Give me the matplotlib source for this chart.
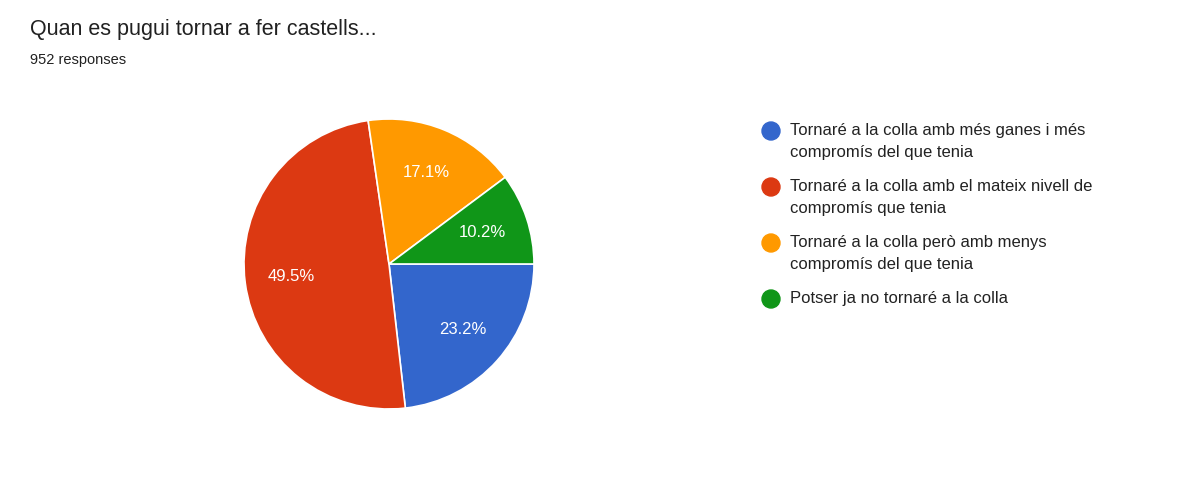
import matplotlib.pyplot as plt
from matplotlib.patches import Ellipse

plt.rcParams['font.family'] = ['Liberation Sans', 'DejaVu Sans']

title = "Quan es pugui tornar a fer castells..."
subtitle = "952 responses"
labels = [
    "Tornaré a la colla amb més ganes i més\ncompromís del que tenia",
    "Tornaré a la colla amb el mateix nivell de\ncompromís que tenia",
    "Tornaré a la colla però amb menys\ncompromís del que tenia",
    "Potser ja no tornaré a la colla",
]
values = [23.2, 49.5, 17.1, 10.2]
colors = ["#3366cc", "#dc3912", "#ff9900", "#109618"]

W, H = 1200, 484
fig = plt.figure(figsize=(12, 4.84), dpi=100)
fig.patch.set_facecolor("white")

cx, cy, r = 389, 264, 145
ax = fig.add_axes([(cx - r) / W, 1 - (cy + r) / H, 2 * r / W, 2 * r / H])
ax.pie(values, colors=colors, startangle=0, counterclock=False,
       autopct="%.1f%%", pctdistance=0.68,
       wedgeprops=dict(edgecolor="white", linewidth=1.2),
       textprops=dict(color="white", fontsize=12))
ax.set_xlim(-1, 1)
ax.set_ylim(-1, 1)
ax.set_aspect("equal")

fig.text(30 / W, 1 - 30 / H, title, fontsize=15.5, color="#212121", va="center")
fig.text(30 / W, 1 - 60 / H, subtitle, fontsize=10.5, color="#212121", va="center")

# legend drawn by hand to match the row spacing
y = 131
for lab, c in zip(labels, colors):
    fig.patches.append(Ellipse((771 / W, 1 - y / H), 18 / W, 18 / H, color=c,
                               transform=fig.transFigure, figure=fig))
    fig.text(790 / W, 1 - (y - 8) / H, lab, fontsize=12, color="#222222",
             va="top", linespacing=1.6)
    y += 28 * (lab.count("\n") + 1)

fig.savefig("out.png", dpi=100, facecolor="white")
